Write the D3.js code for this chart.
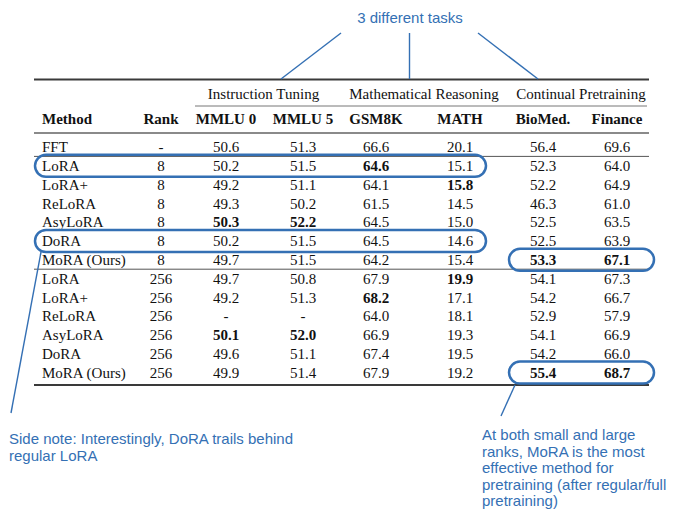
<!DOCTYPE html>
<html>
<head>
<meta charset="utf-8">
<script src="https://cdn.jsdelivr.net/npm/d3@7"></script>
<style>
  body { margin: 0; background: #fff; }
  svg { display: block; }
</style>
</head>
<body>
<div class="viz-table"></div>
<script>
var w = 680;
var h = 521;

// table data
var methods = ["FFT", "LoRA", "LoRA+", "ReLoRA", "AsyLoRA", "DoRA", "MoRA (Ours)",
               "LoRA", "LoRA+", "ReLoRA", "AsyLoRA", "DoRA", "MoRA (Ours)"];
var ranks = ["-", "8", "8", "8", "8", "8", "8", "256", "256", "256", "256", "256", "256"];
var groups = ["Instruction Tuning", "Mathematical Reasoning", "Continual Pretraining"];
var columns = ["MMLU 0", "MMLU 5", "GSM8K", "MATH", "BioMed.", "Finance"];
var mmlu0   = [50.6, 50.2, 49.2, 49.3, 50.3, 50.2, 49.7, 49.7, 49.2, null, 50.1, 49.6, 49.9];
var mmlu5   = [51.3, 51.5, 51.1, 50.2, 52.2, 51.5, 51.5, 50.8, 51.3, null, 52.0, 51.1, 51.4];
var gsm8k   = [66.6, 64.6, 64.1, 61.5, 64.5, 64.5, 64.2, 67.9, 68.2, 64.0, 66.9, 67.4, 67.9];
var math    = [20.1, 15.1, 15.8, 14.5, 15.0, 14.6, 15.4, 19.9, 17.1, 18.1, 19.3, 19.5, 19.2];
var biomed  = [56.4, 52.3, 52.2, 46.3, 52.5, 52.5, 53.3, 54.1, 54.2, 52.9, 54.1, 54.2, 55.4];
var finance = [69.6, 64.0, 64.9, 61.0, 63.5, 63.9, 67.1, 67.3, 66.7, 57.9, 66.9, 66.0, 68.7];
var series = [mmlu0, mmlu5, gsm8k, math, biomed, finance];

// annotations
var topNote = "3 different tasks";
var leftNote = ["Side note: Interestingly, DoRA trails behind", "regular LoRA"];
var rightNote = ["At both small and large", "ranks, MoRA is the most", "effective method for",
                 "pretraining (after regular/full", "pretraining)"];
var highlightRows = [[1, 0, 3], [5, 0, 3], [6, 4, 5], [12, 4, 5]]; // row, first col, last col

var blue = "#3470b4";
var serif = "'Liberation Serif', 'Times New Roman', serif";
var sans = "'Liberation Sans', Arial, sans-serif";

var svg = d3.select('.viz-table')
            .append("svg")
            .attr("width", w)
            .attr("height", h);

// x positions of columns
var colX = d3.scaleOrdinal()
             .domain(["Rank"].concat(columns))
             .range([161, 226, 303, 376, 460, 543, 617]);
var left = 34, right = 649, methodX = 42;

// rows
var y = d3.scaleLinear().domain([0, methods.length - 1]).range([147, 372.6]);

// best value per rank group gets bold
function isBest(ci, ri) {
  if (ri == 0) return false;
  var s = series[ci];
  var lo = ri <= 6 ? 1 : 7, hi = ri <= 6 ? 6 : 12;
  var m = d3.max(s.slice(lo, hi + 1));
  return s[ri] == m;
}

// rules
function rule(y0, x0, x1, sw, col) {
  svg.append("line").attr("x1", x0).attr("x2", x1).attr("y1", y0).attr("y2", y0)
     .attr("stroke", col).attr("stroke-width", sw);
}
rule(79.5, left, right, 2, "#3a3a3a");
rule(106, 195, 647, 1, "#777");
rule(133, left, right, 2, "#8a8a8a");
rule((y(0) + y(1)) / 2, left, right, 1, "#555");
rule((y(6) + y(7)) / 2, left, right, 1, "#555");
rule(385, left, right, 2, "#3a3a3a");

// group headers
var groupCols = [[0, 1], [2, 3], [4, 5]];
svg.selectAll("text.group")
   .data(groups)
   .enter()
   .append("text")
   .attr("class", "group")
   .attr("x", function (d, i) {
       var a = colX(columns[groupCols[i][0]]), b = colX(columns[groupCols[i][1]]);
       return i == 1 ? 424 : (a + b) / 2 + (i == 0 ? -1 : 38 - 37);
   })
   .attr("y", 94)
   .attr("dy", "0.35em")
   .attr("text-anchor", "middle")
   .style("font-family", serif)
   .style("font-size", "15px")
   .style("fill", "#111")
   .text(function (d) { return d; });

// column headers
svg.append("text").attr("x", methodX).attr("y", 119).attr("dy", "0.35em")
   .style("font-family", serif).style("font-size", "15px").style("font-weight", "bold")
   .style("fill", "#111").text("Method");
svg.selectAll("text.colhead")
   .data(["Rank"].concat(columns))
   .enter()
   .append("text")
   .attr("class", "colhead")
   .attr("x", function (d) { return colX(d); })
   .attr("y", 119)
   .attr("dy", "0.35em")
   .attr("text-anchor", "middle")
   .style("font-family", serif)
   .style("font-size", "15px")
   .style("font-weight", "bold")
   .style("fill", "#111")
   .text(function (d) { return d; });

// body
var rows = svg.selectAll("g.row")
              .data(methods)
              .enter()
              .append("g")
              .attr("class", "row")
              .attr("transform", function (d, i) { return "translate(0," + y(i) + ")"; });

rows.append("text")
    .attr("x", methodX).attr("dy", "0.35em")
    .style("font-family", serif).style("font-size", "15px").style("fill", "#111")
    .text(function (d) { return d; });

rows.append("text")
    .attr("x", colX("Rank")).attr("dy", "0.35em").attr("text-anchor", "middle")
    .style("font-family", serif).style("font-size", "15px").style("fill", "#111")
    .text(function (d, i) { return ranks[i]; });

rows.each(function (d, ri) {
  d3.select(this).selectAll("text.val")
    .data(series.map(function (s) { return s[ri]; }))
    .enter()
    .append("text")
    .attr("class", "val")
    .attr("x", function (v, ci) { return colX(columns[ci]); })
    .attr("dy", "0.35em")
    .attr("text-anchor", "middle")
    .style("font-family", serif)
    .style("font-size", "15px")
    .style("font-weight", function (v, ci) { return v != null && isBest(ci, ri) ? "bold" : "normal"; })
    .style("fill", "#111")
    .text(function (v) { return v == null ? "-" : v.toFixed(1); });
});

// highlight boxes
svg.selectAll("rect.hl")
   .data(highlightRows)
   .enter()
   .append("rect")
   .attr("class", "hl")
   .attr("x", function (d) { return d[1] == 0 ? 35 : colX(columns[d[1]]) - 34; })
   .attr("width", function (d) {
       return d[1] == 0 ? 451 : colX(columns[d[2]]) + 37 - (colX(columns[d[1]]) - 34);
   })
   .attr("y", function (d) { return y(d[0]) - 11; })
   .attr("height", 22)
   .attr("rx", 11)
   .attr("fill", "none")
   .attr("stroke", blue)
   .attr("stroke-width", 2.5);

// annotation connectors
var conn = [[341, 33, 281, 79], [409.5, 33, 409.5, 79], [478, 33, 538, 79],
            [41, y(5) + 11, 11, 413], [515, 385, 501, 416]];
svg.selectAll("line.conn")
   .data(conn)
   .enter()
   .append("line")
   .attr("class", "conn")
   .attr("x1", function (d) { return d[0]; })
   .attr("y1", function (d) { return d[1]; })
   .attr("x2", function (d) { return d[2]; })
   .attr("y2", function (d) { return d[3]; })
   .attr("stroke", blue)
   .attr("stroke-width", 1.4);

svg.append("text").attr("x", 410).attr("y", 18).attr("dy", "0.35em").attr("text-anchor", "middle")
   .style("font-family", sans).style("font-size", "15px").style("fill", blue).text(topNote);

svg.selectAll("text.lnote")
   .data(leftNote)
   .enter()
   .append("text")
   .attr("class", "lnote")
   .attr("x", 9)
   .attr("y", function (d, i) { return 439 + i * 17; })
   .attr("dy", "0.35em")
   .style("font-family", sans).style("font-size", "15px").style("fill", blue)
   .text(function (d) { return d; });

svg.selectAll("text.rnote")
   .data(rightNote)
   .enter()
   .append("text")
   .attr("class", "rnote")
   .attr("x", 482)
   .attr("y", function (d, i) { return 435 + i * 16.5; })
   .attr("dy", "0.35em")
   .style("font-family", sans).style("font-size", "15px").style("fill", blue)
   .text(function (d) { return d; });
</script>
</body>
</html>
